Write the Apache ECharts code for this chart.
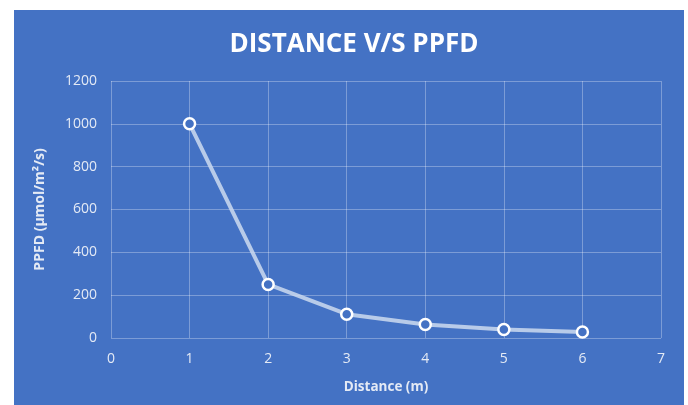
<!DOCTYPE html>
<html>
<head>
<meta charset="utf-8">
<script src="https://cdn.jsdelivr.net/npm/echarts@6/dist/echarts.min.js"></script>
<style>
  html, body { margin: 0; padding: 0; background: #ffffff; }
  #chart { width: 688px; height: 405px; }
</style>
</head>
<body>
<div id="chart"></div>
<script>
// Distance from the light source (m) and measured PPFD (µmol/m²/s)
const distances = [1, 2, 3, 4, 5, 6];
const ppfdValues = [1000, 250, 111, 63, 40, 28];
const xTicks = [0, 1, 2, 3, 4, 5, 6, 7];
const yTicks = [0, 200, 400, 600, 800, 1000, 1200];

const panelBlue = '#4472C4';
const labelColor = '#E4EAF5';
const fontFamily = '"Open Sans", "Noto Sans", sans-serif';

const chart = echarts.init(document.getElementById('chart'), null, { renderer: 'canvas' });

chart.setOption({
  backgroundColor: '#ffffff',
  animation: false,
  graphic: [{
    type: 'rect',
    z: -10,
    shape: { x: 14, y: 10, width: 670, height: 395 },
    style: { fill: panelBlue }
  }],
  title: {
    text: 'DISTANCE V/S PPFD',
    left: 349,
    textAlign: 'center',
    top: 27,
    textStyle: {
      color: '#ffffff',
      fontFamily: fontFamily,
      fontWeight: 'bold',
      fontSize: 26
    }
  },
  grid: { left: 111, right: 27, top: 81, bottom: 67, containLabel: false },
  xAxis: {
    type: 'value',
    min: xTicks[0],
    max: xTicks[xTicks.length - 1],
    interval: 1,
    name: 'Distance (m)',
    nameLocation: 'middle',
    nameGap: 42,
    nameTextStyle: { color: labelColor, fontFamily: fontFamily, fontWeight: 'bold', fontSize: 13.5 },
    axisLine: { show: false },
    axisTick: { show: false },
    axisLabel: { color: labelColor, fontFamily: fontFamily, fontSize: 14, margin: 14 },
    splitLine: { show: true, lineStyle: { color: 'rgba(255,255,255,0.3)', width: 1 } }
  },
  yAxis: {
    type: 'value',
    min: yTicks[0],
    max: yTicks[yTicks.length - 1],
    interval: 200,
    name: 'PPFD (µmol/m²/s)',
    nameLocation: 'middle',
    nameGap: 64,
    nameRotate: 90,
    nameTextStyle: { color: labelColor, fontFamily: fontFamily, fontWeight: 'bold', fontSize: 14 },
    axisLine: { show: false },
    axisTick: { show: false },
    axisLabel: {
      color: labelColor, fontFamily: fontFamily, fontSize: 14, margin: 14,
      formatter: (v) => String(v)
    },
    splitLine: { show: true, lineStyle: { color: 'rgba(255,255,255,0.3)', width: 1 } }
  },
  series: [{
    type: 'line',
    data: distances.map((d, i) => [d, ppfdValues[i]]),
    symbol: 'circle',
    symbolSize: 11,
    lineStyle: { color: 'rgba(205,218,240,0.85)', width: 4 },
    itemStyle: { color: panelBlue, borderColor: '#ffffff', borderWidth: 2.5 },
    z: 5
  }]
});
</script>
</body>
</html>
